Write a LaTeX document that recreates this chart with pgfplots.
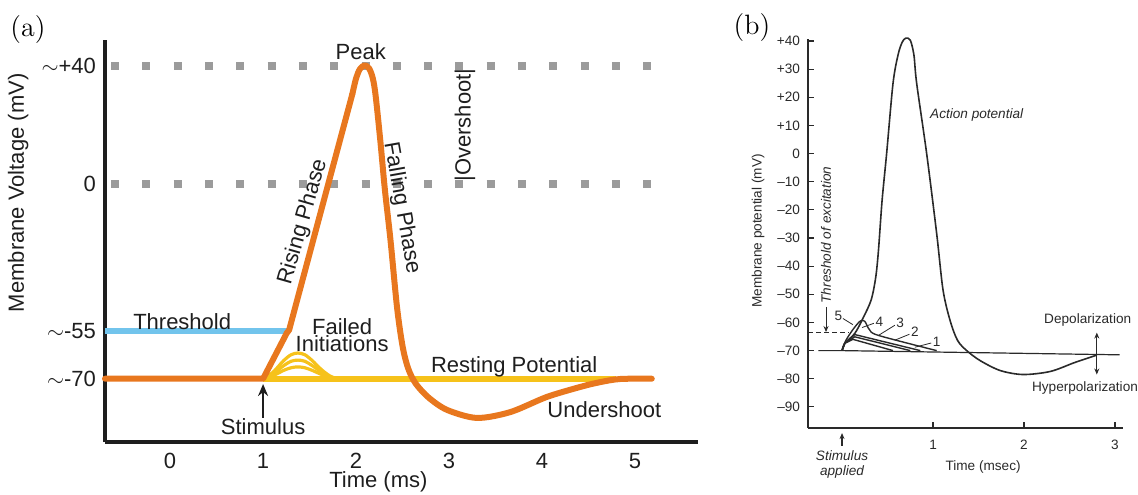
\documentclass[border=0pt]{standalone}
\usepackage{fontspec}
\setsansfont{Liberation Sans}
\usepackage{pgfplots}
\pgfplotsset{compat=1.18}
\usetikzlibrary{arrows.meta}

\definecolor{apOrange}{HTML}{E8771E}
\definecolor{apGold}{HTML}{F6C21A}
\definecolor{apBlue}{HTML}{72C4EC}
\definecolor{dotGray}{HTML}{9B9B9B}
\definecolor{inkA}{HTML}{1E1E1E}
\definecolor{inkB}{HTML}{2A2A2A}

\newcommand{\fa}{\sffamily\fontsize{11}{12}\selectfont}
\newcommand{\fb}{\sffamily\fontsize{6.8}{7.8}\selectfont}
\newcommand{\fbi}{\sffamily\itshape\fontsize{6.8}{7.8}\selectfont}

\begin{document}
\begin{tikzpicture}
% ---------------- panel (a): schematic action potential
\begin{axis}[
  at={(0pt,0pt)}, anchor=south west,
  scale only axis, width=296.5pt, height=201pt,
  xmin=-0.70, xmax=5.677, ymin=-87.46, ymax=48.8,
  axis lines*=left,
  axis line style={line width=2pt, color=inkA},
  major tick length=0pt,
  xtick={0,1,2,3,4,5}, xticklabels={0,1,2,3,4,5},
  ytick={-66,-50,0,40},
  yticklabels={{$\sim$-70},{$\sim$-55},0,{$\sim$+40}},
  tick label style={font=\fa, text=inkA},
  xticklabel style={yshift=-2pt},
  yticklabel style={xshift=-1pt},
  clip=false,
]
% dotted reference lines at +40 and 0
\addplot[dotGray, line width=4pt, dash pattern=on 4pt off 11.65pt] coordinates {(-0.634,40) (5.22,40)};
\addplot[dotGray, line width=4pt, dash pattern=on 4pt off 11.65pt] coordinates {(-0.634,0) (5.22,0)};
% threshold
\addplot[apBlue, line width=3pt] coordinates {(-0.70,-50) (1.27,-50)};
% failed initiations
\addplot[apGold, line width=1.6pt, smooth] coordinates {
  (1.02,-66) (1.12,-63.4) (1.22,-59.9) (1.30,-57.9) (1.375,-57.3)
  (1.45,-57.9) (1.53,-59.9) (1.63,-63.0) (1.72,-65.1) (1.80,-66)};
\addplot[apGold, line width=1.6pt, smooth] coordinates {
  (1.02,-66) (1.12,-64.1) (1.22,-61.6) (1.30,-60.1) (1.375,-59.7)
  (1.45,-60.1) (1.53,-61.6) (1.63,-63.8) (1.72,-65.4) (1.80,-66)};
\addplot[apGold, line width=1.6pt, smooth] coordinates {
  (1.02,-66) (1.12,-64.8) (1.22,-63.2) (1.30,-62.3) (1.375,-62.0)
  (1.45,-62.3) (1.53,-63.2) (1.63,-64.6) (1.72,-65.6) (1.80,-66)};
% resting potential
\addplot[apGold, line width=3pt] coordinates {(1.0,-66) (4.80,-66)};
% action potential
\addplot[apOrange, line width=3pt, line join=round, line cap=round] coordinates {
  (-0.70,-66) (1.0,-66) (1.255,-50.5) (1.28,-49.5) (1.96,30.5)};
\addplot[apOrange, line width=3pt, line join=round, line cap=round, smooth] coordinates {
  (1.96,30.5) (2.00,35.8) (2.04,38.9) (2.09,40.2) (2.14,39.2) (2.18,35.8)
  (2.21,30) (2.26,14.9) (2.31,-2) (2.37,-19) (2.44,-41.7) (2.50,-55)
  (2.56,-62.5) (2.64,-67.6) (2.78,-72.4) (2.98,-76.6) (3.30,-79.3)
  (3.66,-77.3) (4.05,-72.2) (4.41,-68.8) (4.62,-67.2) (4.84,-66.1) (5.18,-66)};

\node[font=\fa, text=inkA] at (axis cs:2.05,44.7) {Peak};
\node[font=\fa, text=inkA, rotate=74] at (axis cs:1.43,-12.9) {Rising Phase};
\node[font=\fa, text=inkA, rotate=-80] at (axis cs:2.49,-8.1) {Falling Phase};
\node[font=\fa, text=inkA, rotate=90, inner sep=0pt] at (axis cs:3.17,20) {|Overshoot|};
\node[font=\fa, text=inkA] at (axis cs:0.13,-46.8) {Threshold};
\node[font=\sffamily\fontsize{11}{8.8}\selectfont, text=inkA, align=center] at (axis cs:1.85,-51.2) {Failed\\Initiations};
\node[font=\fa, text=inkA] at (axis cs:3.70,-62) {Resting Potential};
\node[font=\fa, text=inkA] at (axis cs:4.67,-76.6) {Undershoot};
\node[font=\fa, text=inkA] at (axis cs:1.0,-82.4) {Stimulus};
\draw[-{Stealth[length=6pt,width=5pt]}, line width=1pt, inkA] (axis cs:1.0,-79.3) -- (axis cs:1.0,-67.8);
\node[font=\fa, text=inkA] at (axis cs:2.24,-100.8) {Time (ms)};
\node[font=\fa, text=inkA, rotate=90] at (axis cs:-1.634,-3) {Membrane Voltage (mV)};
\end{axis}
\node[font=\fontsize{14}{16}\selectfont] at (-38.5pt,206pt) {(a)};

% ---------------- panel (b): recorded action potential
\begin{axis}[
  at={(351.5pt,7pt)}, anchor=south west,
  scale only axis, width=157.5pt, height=194.5pt,
  xmin=-0.374, xmax=3.088, ymin=-97.5, ymax=40.7,
  axis lines*=left,
  axis line style={line width=0.6pt, color=inkB},
  tick align=inside, major tick length=3pt,
  tick style={line width=0.6pt, color=inkB},
  xtick={1,2,3}, xticklabels={1,2,3},
  ytick={-90,-80,-70,-60,-50,-40,-30,-20,-10,0,10,20,30,40},
  yticklabels={–90,–80,–70,–60,–50,–40,–30,–20,–10,0,+10,+20,+30,+40},
  tick label style={font=\fb, text=inkB},
  xticklabel style={yshift=-2.5pt},
  yticklabel style={xshift=-0.5pt},
  clip=false,
]
% resting baseline and threshold
\addplot[inkB, line width=0.6pt] coordinates {(-0.26,-70) (0,-70) (3.05,-71.5)};
\addplot[inkB, line width=0.6pt, dash pattern=on 2.5pt off 1.5pt] coordinates {(-0.374,-63.6) (0.08,-63.6)};
% subthreshold responses 1-4
\addplot[inkB, line width=0.7pt] coordinates {(0,-70) (0.03,-67.4) (0.12,-66) (0.56,-70)};
\addplot[inkB, line width=0.7pt] coordinates {(0,-70) (0.03,-67.4) (0.14,-65.1) (0.75,-70)};
\addplot[inkB, line width=0.7pt] coordinates {(0,-70) (0.03,-67.4) (0.14,-64.3) (0.86,-70)};
\addplot[inkB, line width=0.7pt, smooth] coordinates {(0,-70) (0.04,-66.5) (0.12,-62.5) (0.20,-59.5) (0.25,-59.6) (0.30,-62.5) (0.40,-64.6) (1.04,-70)};
% action potential (5)
\addplot[inkB, line width=0.8pt, smooth] coordinates {
  (0,-70) (0.03,-67.4) (0.14,-63.9) (0.23,-58.5) (0.32,-52) (0.37,-44)
  (0.40,-34.5) (0.44,-16.7) (0.49,0) (0.56,24.9) (0.615,35) (0.66,39.5)
  (0.70,41) (0.75,40.3) (0.79,35) (0.82,25) (0.93,0) (1.04,-28.4)
  (1.11,-48.5) (1.19,-59.6) (1.27,-66.4) (1.37,-70) (1.52,-73.6)
  (1.74,-77.1) (1.99,-78.5) (2.29,-77.4) (2.56,-74.2) (2.80,-71.6)};

% curve numbers and leaders
\node[font=\fb, text=inkB] at (axis cs:-0.04,-57.7) {5};
\draw[inkB, line width=0.4pt] (axis cs:0.01,-58.6) -- (axis cs:0.12,-60.8);
\node[font=\fb, text=inkB] at (axis cs:0.41,-59.7) {4};
\draw[inkB, line width=0.4pt] (axis cs:0.35,-60.3) -- (axis cs:0.22,-61.8);
\node[font=\fb, text=inkB] at (axis cs:0.64,-60.0) {3};
\draw[inkB, line width=0.4pt] (axis cs:0.58,-61.0) -- (axis cs:0.40,-64.6);
\node[font=\fb, text=inkB] at (axis cs:0.80,-63.3) {2};
\draw[inkB, line width=0.4pt] (axis cs:0.74,-64.2) -- (axis cs:0.58,-66.3);
\node[font=\fb, text=inkB] at (axis cs:1.04,-66.8) {1};
\draw[inkB, line width=0.4pt] (axis cs:0.98,-67.3) -- (axis cs:0.80,-68.8);

\node[font=\fbi, text=inkB] at (axis cs:1.48,13.7) {Action potential};
\node[font=\fbi, text=inkB, rotate=90] at (axis cs:-0.176,-28.9) {Threshold of excitation};
\draw[-{Stealth[length=3pt,width=2.5pt]}, inkB, line width=0.5pt] (axis cs:-0.176,-54.5) -- (axis cs:-0.176,-63.4);
\node[font=\fb, text=inkB] at (axis cs:2.70,-59) {Depolarization};
\node[font=\fb, text=inkB] at (axis cs:2.67,-83.3) {Hyperpolarization};
\draw[-{Stealth[length=3pt,width=2.5pt]}, inkB, line width=0.6pt] (axis cs:2.80,-71.2) -- (axis cs:2.80,-63.6);
\draw[-{Stealth[length=3pt,width=2.5pt]}, inkB, line width=0.6pt] (axis cs:2.80,-71.8) -- (axis cs:2.80,-78.5);
\draw[-{Stealth[length=3pt,width=2.5pt]}, inkB, line width=0.6pt] (axis cs:0,-103.8) -- (axis cs:0,-99.3);
\node[font=\fbi, text=inkB, align=center] at (axis cs:0,-110.4) {Stimulus\\applied};
\node[font=\fb, text=inkB] at (axis cs:1.55,-111.3) {Time (msec)};
\node[font=\fb, text=inkB, rotate=90] at (axis cs:-0.923,-27.5) {Membrane potential (mV)};
\end{axis}
\node[font=\fontsize{14}{16}\selectfont] at (323.5pt,207pt) {(b)};

\pgfresetboundingbox
\path[use as bounding box] (-52.5pt,-26pt) rectangle (516.5pt,221pt);
\end{tikzpicture}
\end{document}
